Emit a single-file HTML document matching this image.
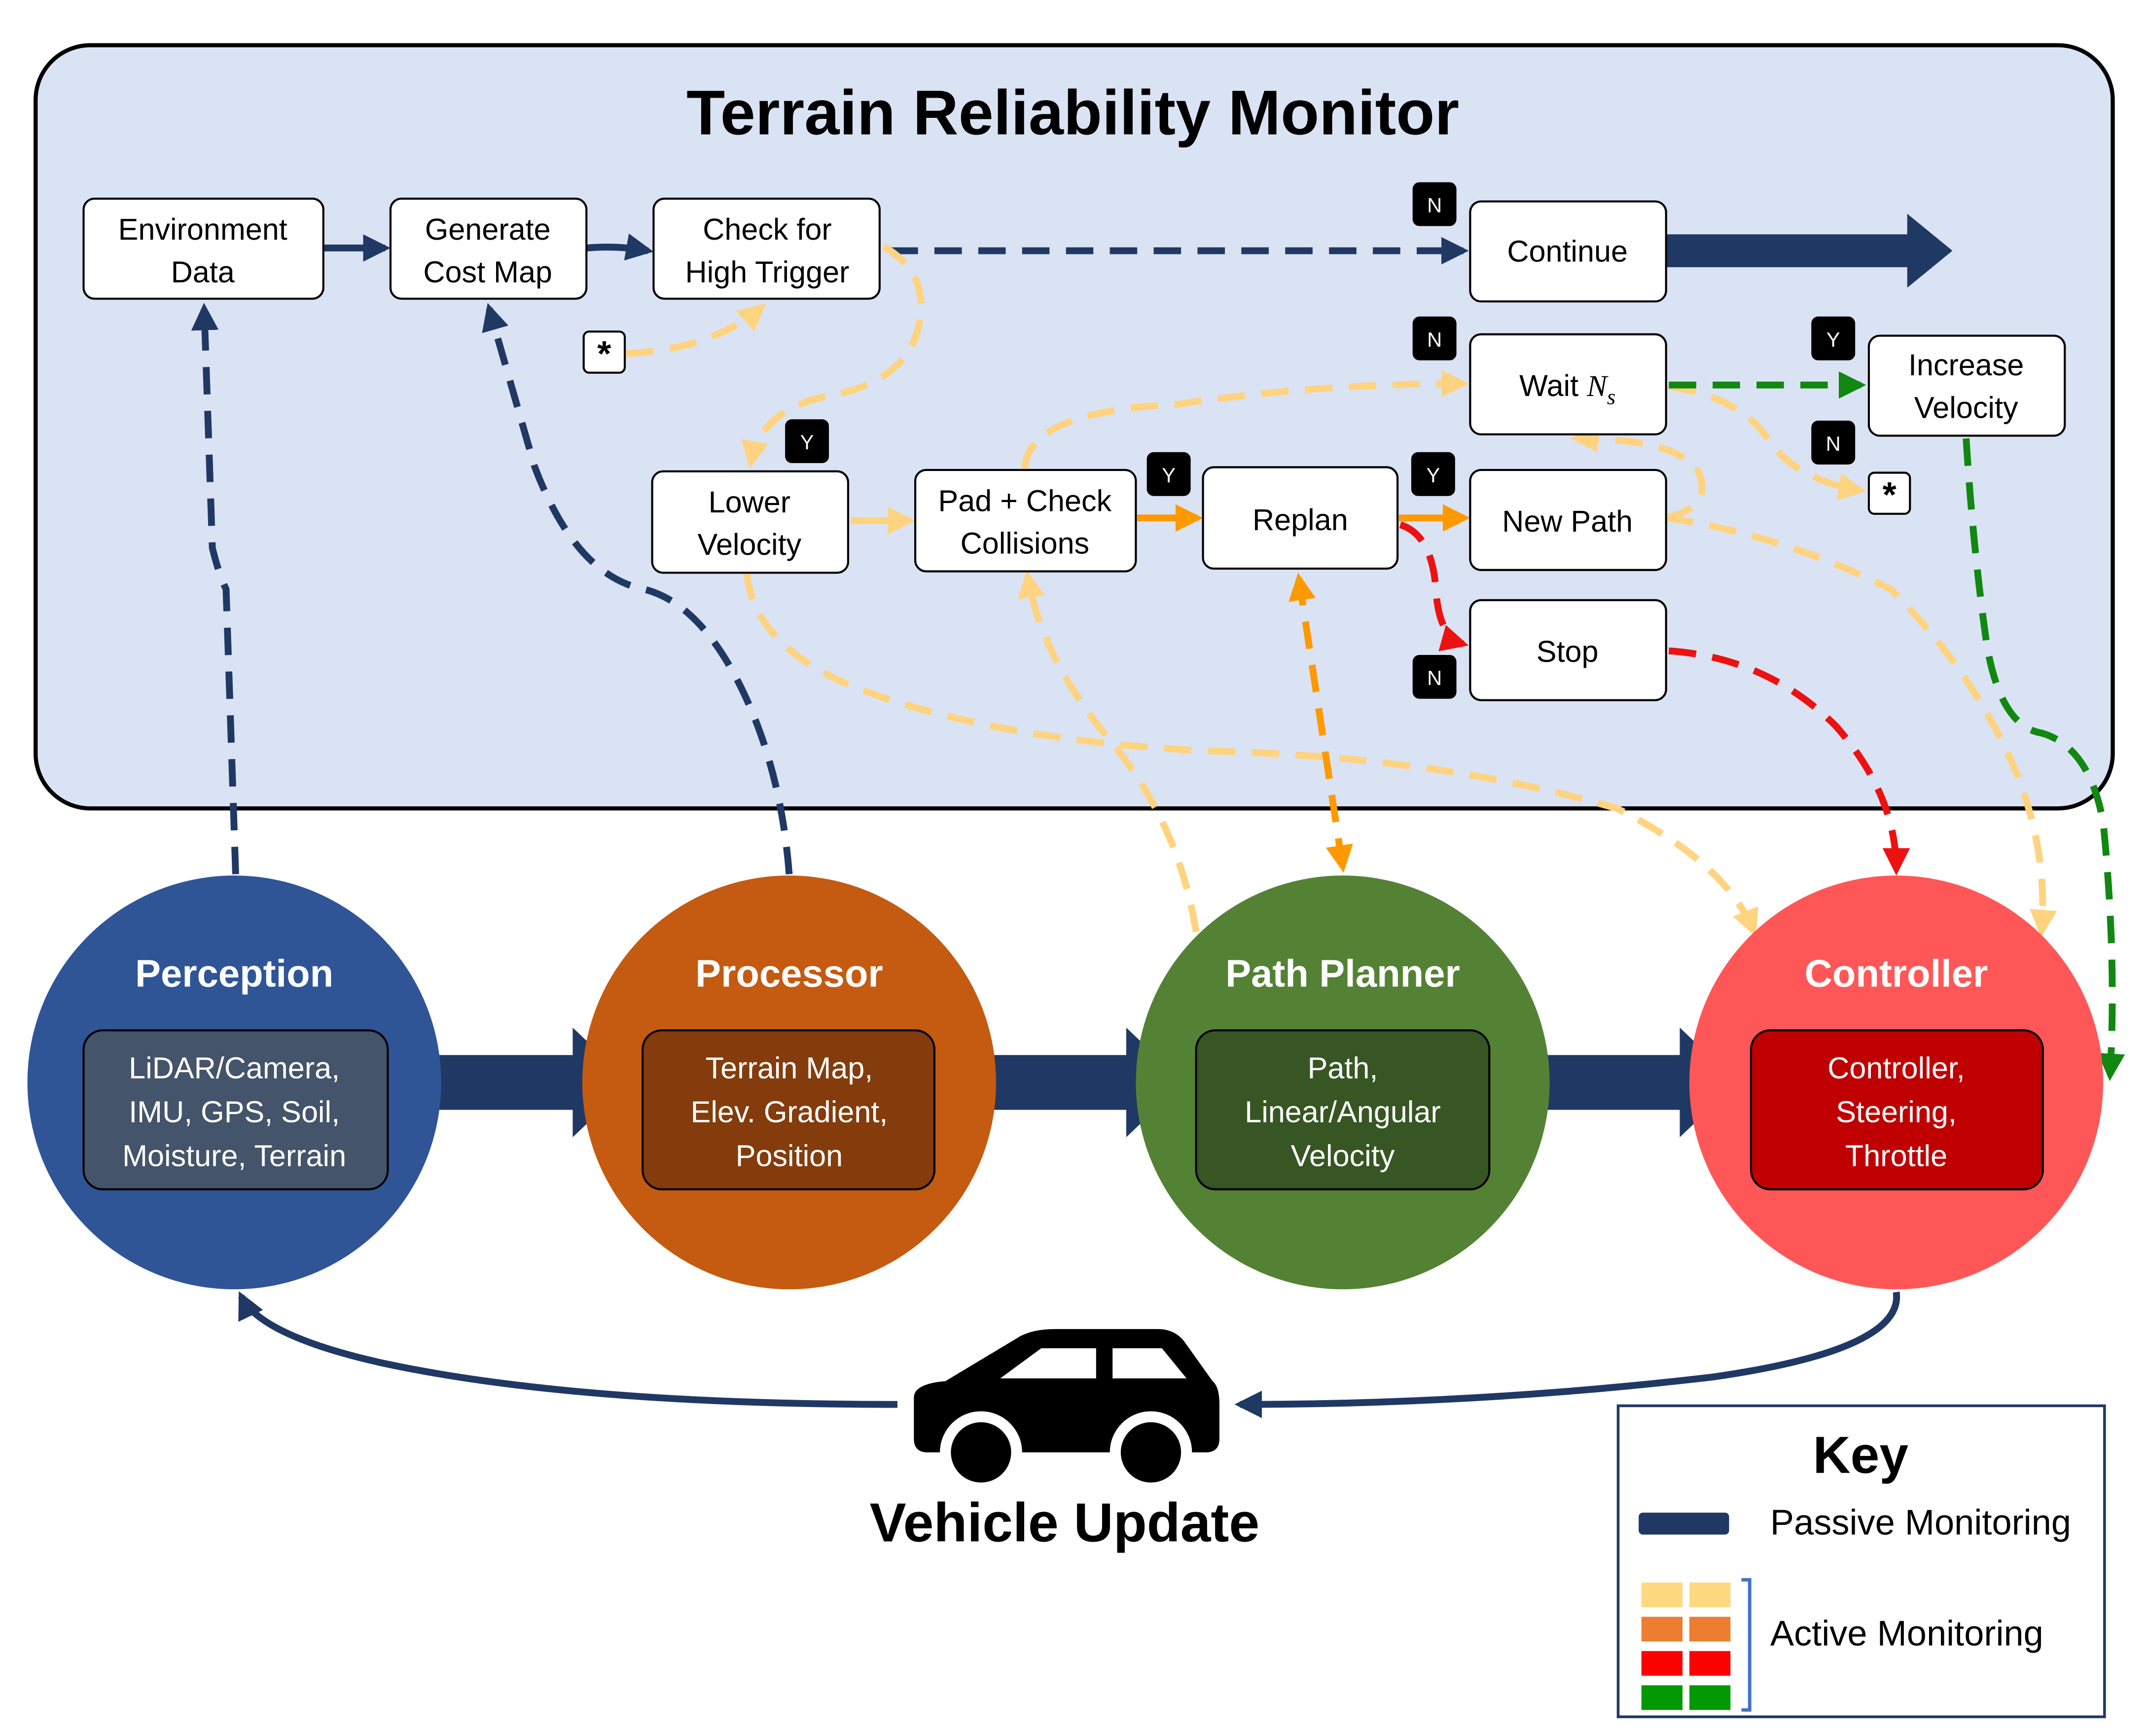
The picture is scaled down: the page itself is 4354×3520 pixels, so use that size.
<!DOCTYPE html>
<html><head><meta charset="utf-8"><style>
html,body{margin:0;padding:0;background:#fff}
svg{display:block}
text{font-family:"Liberation Sans","DejaVu Sans",sans-serif}
</style></head><body>
<svg width="4354" height="3520" viewBox="0 0 1567 1267" preserveAspectRatio="none" xmlns="http://www.w3.org/2000/svg">
<defs>
<marker id="an" viewBox="0 0 10 10" refX="8" refY="5" markerWidth="4" markerHeight="4" orient="auto-start-reverse"><path d="M0,0 L10,5 L0,10 z" fill="#203864"/></marker>
<marker id="ay" viewBox="0 0 10 10" refX="8" refY="5" markerWidth="4" markerHeight="4" orient="auto-start-reverse"><path d="M0,0 L10,5 L0,10 z" fill="#ffd37f"/></marker>
<marker id="ao" viewBox="0 0 10 10" refX="8" refY="5" markerWidth="4" markerHeight="4" orient="auto-start-reverse"><path d="M0,0 L10,5 L0,10 z" fill="#ff9900"/></marker>
<marker id="ar" viewBox="0 0 10 10" refX="8" refY="5" markerWidth="4" markerHeight="4" orient="auto-start-reverse"><path d="M0,0 L10,5 L0,10 z" fill="#ee1111"/></marker>
<marker id="ag" viewBox="0 0 10 10" refX="8" refY="5" markerWidth="4" markerHeight="4" orient="auto-start-reverse"><path d="M0,0 L10,5 L0,10 z" fill="#118811"/></marker>
</defs>
<rect x="26" y="33" width="1516" height="557" rx="40" fill="#dae3f3" stroke="#000" stroke-width="3"/>
<text x="783" y="98" font-size="46" font-weight="bold" text-anchor="middle">Terrain Reliability Monitor</text>

<g fill="none" stroke-width="5" stroke-dasharray="20 12">
<path d="M172,638 L165,430 Q160,420 155,400 L149,225" stroke="#203864" marker-end="url(#an)"/>
<path d="M576,638 Q570,560 540,500 Q510,440 470,430 Q420,420 390,340 L357,225" stroke="#203864" marker-end="url(#an)"/>
<path d="M650,183 L1068,183" stroke="#203864" marker-end="url(#an)"/>
<path d="M457,258 Q520,255 556,224" stroke="#ffd37f" marker-end="url(#ay)"/>
<path d="M645,180 Q680,200 670,240 Q660,280 600,290 Q555,300 548,338" stroke="#ffd37f" marker-end="url(#ay)"/>
<path d="M748,342 Q750,300 860,295 Q960,280 1068,280" stroke="#ffd37f" marker-end="url(#ay)"/>
<path d="M1218,282 Q1270,290 1290,320 Q1310,350 1358,358" stroke="#ffd37f" marker-end="url(#ay)"/>
<path d="M1216,378 Q1250,370 1240,345 Q1225,320 1150,320" stroke="#ffd37f" marker-end="url(#ay)"/>
<path d="M545,418 Q550,470 620,500 Q720,540 880,548 Q1050,552 1180,590 Q1260,630 1280,680" stroke="#ffd37f" marker-end="url(#ay)"/>
<path d="M873,680 Q860,600 810,540 Q760,480 750,420" stroke="#ffd37f" marker-end="url(#ay)"/>
<path d="M1216,378 Q1300,390 1380,430 Q1440,490 1470,560 Q1495,620 1490,680" stroke="#ffd37f" marker-end="url(#ay)"/>
<path d="M948,422 L980,633" stroke="#ff9900" marker-end="url(#ao)" marker-start="url(#ao)"/>
<path d="M1022,383 Q1045,390 1048,430 Q1050,465 1068,470" stroke="#ee1111" marker-end="url(#ar)"/>
<path d="M1218,475 Q1290,480 1340,530 Q1384,580 1384,635" stroke="#ee1111" marker-end="url(#ar)"/>
<path d="M1218,281 L1358,281" stroke="#118811" marker-end="url(#ag)"/>
<path d="M1435,320 Q1440,400 1450,470 Q1460,530 1490,535 Q1525,545 1535,600 Q1545,700 1540,785" stroke="#118811" marker-end="url(#ag)"/>
</g>
<g fill="none" stroke-width="5">
<path d="M236,181 L281,181" stroke="#203864" marker-end="url(#an)"/>
<path d="M428,181 Q450,179 473,183" stroke="#203864" marker-end="url(#an)"/>
<path d="M621,380 L664,380" stroke="#ffd37f" marker-end="url(#ay)"/>
<path d="M830,378 L874,378" stroke="#ff9900" marker-end="url(#ao)"/>
<path d="M1021,378 L1069,378" stroke="#ff9900" marker-end="url(#ao)"/>
</g>
<path d="M1216,171 L1392,171 L1392,156 L1425,183 L1392,210 L1392,195 L1216,195 z" fill="#203864"/>

<g fill="#fff" stroke="#000" stroke-width="1.5">
<rect x="61" y="145" width="175" height="73" rx="8"/>
<rect x="285" y="145" width="143" height="73" rx="8"/>
<rect x="477" y="145" width="165" height="73" rx="8"/>
<rect x="1073" y="147" width="143" height="73" rx="8"/>
<rect x="1073" y="244" width="143" height="73" rx="8"/>
<rect x="1364" y="245" width="143" height="73" rx="8"/>
<rect x="476" y="344" width="143" height="74" rx="8"/>
<rect x="668" y="343" width="161" height="74" rx="8"/>
<rect x="878" y="341" width="142" height="74" rx="8"/>
<rect x="1073" y="343" width="143" height="73" rx="8"/>
<rect x="1073" y="438" width="143" height="73" rx="8"/>
<rect x="426" y="242" width="30" height="30" rx="4"/>
<rect x="1364" y="345" width="30" height="30" rx="4"/>
</g>
<g font-size="22" text-anchor="middle" fill="#000">
<text x="148" y="175">Environment</text><text x="148" y="206">Data</text>
<text x="356" y="175">Generate</text><text x="356" y="206">Cost Map</text>
<text x="560" y="175">Check for</text><text x="560" y="206">High Trigger</text>
<text x="1144" y="191">Continue</text>
<text x="1144" y="289">Wait <tspan font-family="Liberation Serif,serif" font-style="italic">N</tspan><tspan font-family="Liberation Serif,serif" font-style="italic" font-size="16" dy="6">s</tspan></text>
<text x="1435" y="274">Increase</text><text x="1435" y="305">Velocity</text>
<text x="547" y="374">Lower</text><text x="547" y="405">Velocity</text>
<text x="748" y="373">Pad + Check</text><text x="748" y="404">Collisions</text>
<text x="949" y="387">Replan</text>
<text x="1144" y="388">New Path</text>
<text x="1144" y="483">Stop</text>
<text x="441" y="267" font-size="26" font-weight="bold">*</text>
<text x="1379" y="370" font-size="26" font-weight="bold">*</text>
</g>
<g fill="#000">
<rect x="1031" y="133" width="32" height="32" rx="5"/><rect x="1031" y="231" width="32" height="32" rx="5"/>
<rect x="1322" y="231" width="32" height="32" rx="5"/><rect x="1322" y="307" width="32" height="32" rx="5"/>
<rect x="573" y="306" width="32" height="32" rx="5"/><rect x="837" y="330" width="32" height="32" rx="5"/>
<rect x="1030" y="330" width="32" height="32" rx="5"/><rect x="1031" y="478" width="32" height="32" rx="5"/>
</g>
<g fill="#fff" font-size="15" text-anchor="middle">
<text x="1047" y="155">N</text><text x="1047" y="253">N</text><text x="1338" y="253">Y</text><text x="1338" y="329">N</text>
<text x="589" y="328">Y</text><text x="853" y="352">Y</text><text x="1046" y="352">Y</text><text x="1047" y="500">N</text>
</g>

<g fill="#203864">
<path d="M300,770 L418,770 L418,750 L460,790 L418,830 L418,810 L300,810 z"/>
<path d="M705,770 L822,770 L822,750 L864,790 L822,830 L822,810 L705,810 z"/>
<path d="M1110,770 L1226,770 L1226,750 L1268,790 L1226,830 L1226,810 L1110,810 z"/>
</g>
<circle cx="171" cy="790" r="151" fill="#2f5597"/>
<circle cx="576" cy="790" r="151" fill="#c55a11"/>
<circle cx="980" cy="790" r="151" fill="#548235"/>
<circle cx="1384" cy="790" r="151" fill="#ff5757"/>
<g stroke="#000" stroke-width="1.5">
<rect x="61" y="752" width="222" height="116" rx="14" fill="#44546a"/>
<rect x="469" y="752" width="213" height="116" rx="14" fill="#843c0c"/>
<rect x="873" y="752" width="214" height="116" rx="14" fill="#375623"/>
<rect x="1278" y="752" width="213" height="116" rx="14" fill="#c00000"/>
</g>
<g fill="#fff" text-anchor="middle">
<g font-size="28" font-weight="bold">
<text x="171" y="720">Perception</text><text x="576" y="720">Processor</text>
<text x="980" y="720">Path Planner</text><text x="1384" y="720">Controller</text>
</g>
<g font-size="22">
<text x="171" y="787">LiDAR/Camera,</text><text x="171" y="819">IMU, GPS, Soil,</text><text x="171" y="851">Moisture, Terrain</text>
<text x="576" y="787">Terrain Map,</text><text x="576" y="819">Elev. Gradient,</text><text x="576" y="851">Position</text>
<text x="980" y="787">Path,</text><text x="980" y="819">Linear/Angular</text><text x="980" y="851">Velocity</text>
<text x="1384" y="787">Controller,</text><text x="1384" y="819">Steering,</text><text x="1384" y="851">Throttle</text>
</g>
</g>

<g fill="none" stroke="#203864" stroke-width="5">
<path d="M1384,943 Q1390,985 1250,1005 Q1080,1025 905,1025" marker-end="url(#an)"/>
<path d="M655,1025 Q420,1025 280,995 Q190,975 176,946" marker-end="url(#an)"/>
</g>
<g fill="#000">
<path d="M667,1020 Q667,1010 690,1008 L745,975 Q755,970 770,970 L845,970 Q858,970 865,980 L885,1008 Q890,1012 890,1025 L890,1050 Q890,1060 880,1060 L677,1060 Q667,1060 667,1050 z"/>
<circle cx="716" cy="1060" r="30" fill="#fff"/><circle cx="716" cy="1060" r="22"/>
<circle cx="840" cy="1060" r="30" fill="#fff"/><circle cx="840" cy="1060" r="22"/>
<path d="M730,1006 L760,984 L800,984 L800,1006 z" fill="#fff"/>
<path d="M812,984 L848,984 L866,1006 L812,1006 z" fill="#fff"/>
</g>
<text x="777" y="1125" font-size="40" font-weight="bold" text-anchor="middle">Vehicle Update</text>

<rect x="1181" y="1026" width="355" height="227" fill="#fff" stroke="#203864" stroke-width="2"/>
<text x="1358" y="1075" font-size="38" font-weight="bold" text-anchor="middle">Key</text>
<rect x="1196" y="1104" width="66" height="16" rx="3" fill="#203864"/>
<text x="1292" y="1120" font-size="26">Passive Monitoring</text>
<g>
<rect x="1198" y="1155" width="30" height="18" fill="#ffd97f"/><rect x="1233" y="1155" width="30" height="18" fill="#ffd97f"/>
<rect x="1198" y="1180" width="30" height="18" fill="#ed7d31"/><rect x="1233" y="1180" width="30" height="18" fill="#ed7d31"/>
<rect x="1198" y="1205" width="30" height="18" fill="#ff0000"/><rect x="1233" y="1205" width="30" height="18" fill="#ff0000"/>
<rect x="1198" y="1230" width="30" height="18" fill="#009900"/><rect x="1233" y="1230" width="30" height="18" fill="#009900"/>
</g>
<path d="M1271,1153 L1277,1153 L1277,1248 L1271,1248" fill="none" stroke="#4472c4" stroke-width="2.5"/>
<text x="1292" y="1201" font-size="26">Active Monitoring</text>
</svg>
</body></html>
